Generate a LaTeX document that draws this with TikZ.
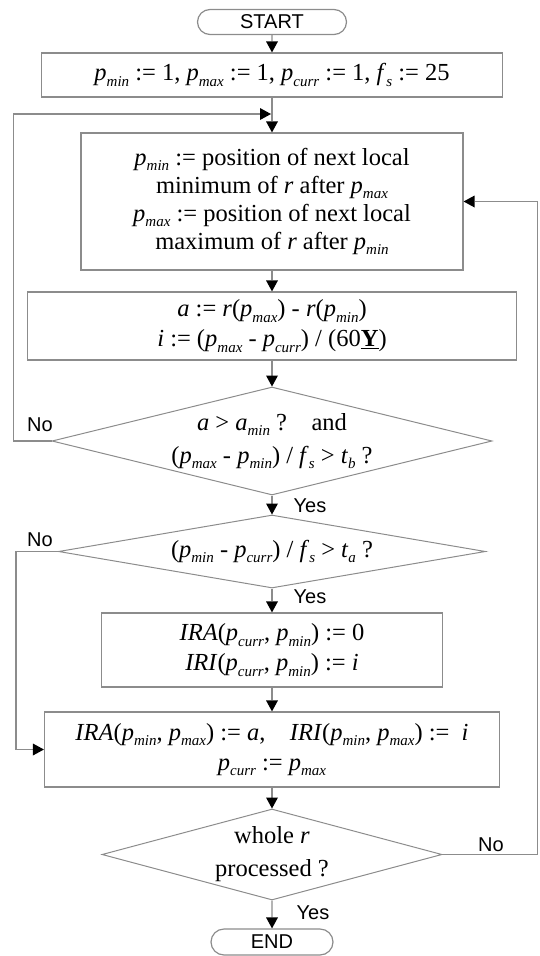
\documentclass[tikz,border=0pt]{standalone}
\usepackage{fontspec}
\setmainfont{Liberation Serif}
\newfontfamily\arialf{Liberation Sans}
\usetikzlibrary{shapes.geometric,shapes.misc,arrows.meta}
\newcommand\vv[2]{\textit{#1}\raisebox{-0.5ex}{\fontsize{15}{15}\selectfont\textit{#2}}}
\begin{document}
\begin{tikzpicture}[x=1pt,y=-1pt,
  line/.style={draw=black!45,line width=1.1pt},
  arr/.style={line,-{Triangle[length=11pt,width=12pt,fill=black,color=black,line width=0pt]}},
  boxn/.style={draw=black!45,line width=1.2pt,rectangle,inner sep=0pt,align=center,
     font=\fontsize{24.5}{30}\selectfont},
  dec/.style={draw=black!45,line width=1pt,diamond,inner sep=0pt,align=center,
     font=\fontsize{24.5}{33}\selectfont},
  term/.style={draw=black!45,line width=1.2pt,rounded rectangle,inner sep=0pt,
     font=\arialf\fontsize{20}{20}\selectfont},
  lab/.style={font=\arialf\fontsize{20}{20}\selectfont,inner sep=0pt}]
\useasboundingbox (0,0) rectangle (539,956);

\node[term,minimum width=149pt,minimum height=25pt] (start) at (272,22) {START};
\node[boxn,minimum width=461pt,minimum height=44pt] (init) at (272,75)
  {\vv{p}{min} := 1, \vv{p}{max} := 1, \vv{p}{curr} := 1, \vv{f}{s} := 25};
\node[boxn,minimum width=382pt,minimum height=137pt,font=\fontsize{24.5}{28}\selectfont] (b2) at (272,201.5)
  {\vv{p}{min} := position of next local\\
   minimum of \textit{r} after \vv{p}{max}\\
   \vv{p}{max} := position of next local\\
   maximum of \textit{r} after \vv{p}{min}};
\node[boxn,minimum width=489pt,minimum height=68pt] (b3) at (272,326)
  {\textit{a} := \textit{r}(\vv{p}{max}) - \textit{r}(\vv{p}{min})\\
   \textit{i} := (\vv{p}{max} - \vv{p}{curr}) / (60\underline{\textbf{Y}})};
\node[dec,shape aspect=4,minimum width=440pt,minimum height=108pt] (d1) at (272,441)
  {\textit{a} > \vv{a}{min} ?\quad and\\
   (\vv{p}{max} - \vv{p}{min}) / \vv{f}{s} > \vv{t}{b} ?};
\node[dec,shape aspect=5.8,minimum width=427pt,minimum height=73pt] (d2) at (272,551.5)
  {(\vv{p}{min} - \vv{p}{curr}) / \vv{f}{s} > \vv{t}{a} ?};
\node[boxn,minimum width=341pt,minimum height=74pt] (b4) at (272,650)
  {\textit{IRA}(\vv{p}{curr}, \vv{p}{min}) := 0\\
   \textit{IRI}(\vv{p}{curr}, \vv{p}{min}) := \textit{i}};
\node[boxn,minimum width=455pt,minimum height=75pt] (b5) at (272,749.5)
  {\textit{IRA}(\vv{p}{min}, \vv{p}{max}) := \textit{a},\quad \textit{IRI}(\vv{p}{min}, \vv{p}{max}) := \ \textit{i}\\
   \vv{p}{curr} := \vv{p}{max}};
\node[dec,shape aspect=3.7,minimum width=340pt,minimum height=91pt] (d3) at (272,854.5)
  {whole \textit{r}\\ processed ?};
\node[term,minimum width=122pt,minimum height=26pt] (end) at (272,942) {END};

\coordinate (loopin) at (271,114);

\draw[arr] (start) -- (init);
\draw[arr] (init) -- (b2);
\draw[arr] (b2) -- (b3);
\draw[arr] (b3) -- (d1);
\draw[arr] (d1) -- (d2);
\draw[arr] (d2) -- (b4);
\draw[arr] (b4) -- (b5);
\draw[arr] (b5) -- (d3);
\draw[arr] (d3) -- (end);
\draw[arr] (d1.west) -- ++(-38,0) |- (loopin);
\draw[arr] (d2.west) -- ++(-42,0) |- (b5.west);
\draw[arr] (d3.east) -- ++(95,0) |- (b2.east);

\node[lab] at (40,425) {No};
\node[lab] at (310,506) {Yes};
\node[lab] at (40,540) {No};
\node[lab] at (310,597) {Yes};
\node[lab] at (491,845) {No};
\node[lab] at (313,913) {Yes};
\end{tikzpicture}
\end{document}
